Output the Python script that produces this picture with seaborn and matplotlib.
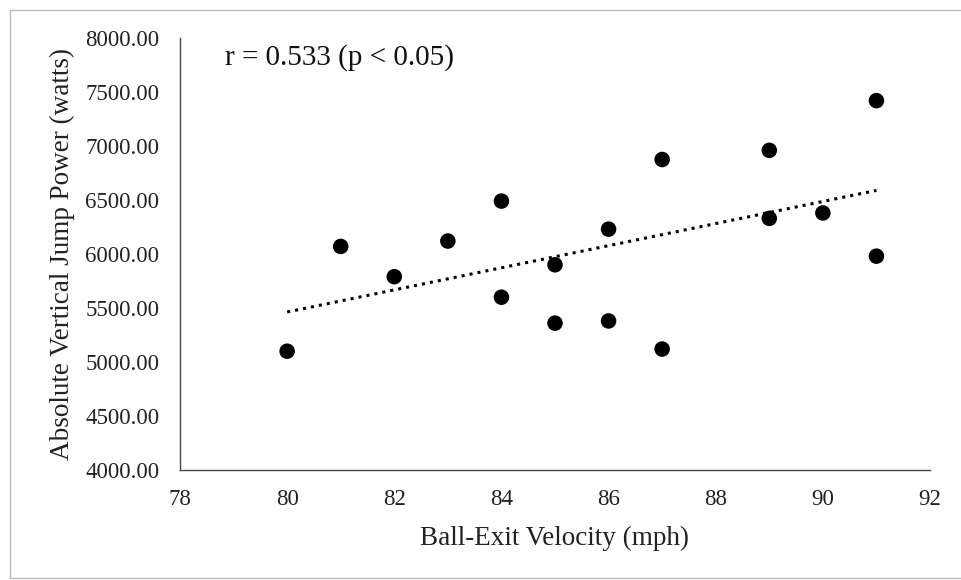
import numpy as np
import pandas as pd
import seaborn as sns
import matplotlib.pyplot as plt
from matplotlib.lines import Line2D

# values
velocity = [80, 81, 82, 83, 84, 84, 85, 85, 86, 86, 87, 87, 89, 89, 90, 91, 91]
power = [5100, 6070, 5790, 6120, 6490, 5600, 5900, 5360, 6230, 5380,
         6875, 5120, 6960, 6330, 6380, 7420, 5980]
x_ticks = [78, 80, 82, 84, 86, 88, 90, 92]
y_ticks = [4000, 4500, 5000, 5500, 6000, 6500, 7000, 7500, 8000]

df = pd.DataFrame({"velocity": velocity, "power": power})

sns.set_style("white")
plt.rcParams["font.family"] = ["Liberation Serif", "DejaVu Serif"]

fig = plt.figure(figsize=(9.61, 5.80), dpi=100)
ax = fig.add_axes([180 / 961, 1 - 470 / 580, 750 / 961, 432 / 580])

sns.regplot(data=df, x="velocity", y="power", ax=ax, ci=None, truncate=True,
            scatter_kws={"s": 125, "color": "black", "edgecolor": "none", "alpha": 1},
            line_kws={"color": "black", "linestyle": ":", "linewidth": 2.2})

ax.set_xlim(78, 92)
ax.set_ylim(4000, 8000)
ax.set_xticks(x_ticks)
ax.set_yticks(y_ticks)
ax.set_yticklabels([f"{v:.2f}" for v in y_ticks])
ax.tick_params(axis="both", length=0, labelsize=16.5, colors="#222222")
ax.tick_params(axis="y", pad=15)
ax.tick_params(axis="x", pad=14)

for side in ["top", "right"]:
    ax.spines[side].set_visible(False)
for side in ["left", "bottom"]:
    ax.spines[side].set_color("#444444")
    ax.spines[side].set_linewidth(1.0)

ax.set_xlabel("Ball-Exit Velocity (mph)", fontsize=19.5, color="#222222", labelpad=11)
ax.set_ylabel("Absolute Vertical Jump Power (watts)", fontsize=19.5, color="#222222", labelpad=7)

ax.text(0.06, 0.955, "r = 0.533 (p < 0.05)", transform=ax.transAxes,
        fontsize=21, color="#111111", va="center", ha="left")

# light chart-area frame (left, top, bottom edges) like the spreadsheet export
fx0, fy0, fy1 = 10 / 961, 1 - 578 / 580, 1 - 10 / 580
for xs, ys in [([fx0, 1], [fy1, fy1]), ([fx0, fx0], [fy0, fy1]), ([fx0, 1], [fy0, fy0])]:
    fig.add_artist(Line2D(xs, ys, transform=fig.transFigure, color="#bbbbbb", linewidth=1.0))

fig.savefig("out.png", dpi=100)
